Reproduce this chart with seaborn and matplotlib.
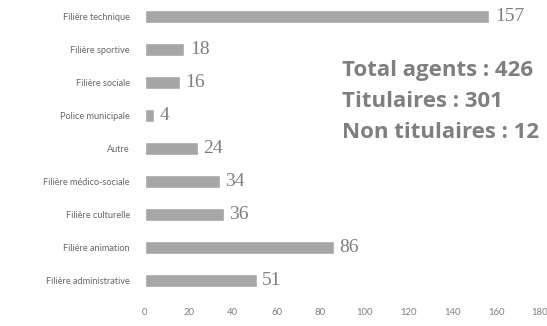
import matplotlib
matplotlib.use("Agg")
import matplotlib.pyplot as plt
import seaborn as sns
import pandas as pd

categories = [
    "Filière technique",
    "Filière sportive",
    "Filière sociale",
    "Police municipale",
    "Autre",
    "Filière médico-sociale",
    "Filière culturelle",
    "Filière animation",
    "Filière administrative",
]
effectifs = [157, 18, 16, 4, 24, 34, 36, 86, 51]
x_ticks = [0, 20, 40, 60, 80, 100, 120, 140, 160, 180]
summary_lines = ["Total agents : 426", "Titulaires : 301", "Non titulaires : 12"]

df = pd.DataFrame({"categorie": categories, "effectif": effectifs})

sns.set_theme(style="white")
plt.rcParams["font.family"] = ["Lato", "DejaVu Sans"]

fig = plt.figure(figsize=(5.47, 3.26), dpi=100)
ax = fig.add_axes([0.265, 0.088, 0.722, 0.912])

sns.barplot(data=df, x="effectif", y="categorie", orient="h",
            color="#a6a6a6", saturation=1, width=0.39, ax=ax)

for i, v in enumerate(df["effectif"]):
    ax.text(v + 2.5, i, str(v), va="center", ha="left",
            family="Liberation Serif", fontsize=14, color="#7f7f7f")

ax.set_xlim(0, 180)
ax.set_ylim(8.5, -0.5)
ax.set_xticks(x_ticks)
ax.set_xticklabels([str(t) for t in x_ticks], fontsize=6.8, color="#7f7f7f")
ax.tick_params(axis="y", labelsize=6.6, labelcolor="#666666", length=0, pad=11)
ax.tick_params(axis="x", length=0, pad=8)
ax.set_xlabel("")
ax.set_ylabel("")
sns.despine(ax=ax, left=True, bottom=True)

fig.text(0.625, 0.815, "\n".join(summary_lines), ha="left", va="top",
         family="Open Sans", fontsize=16, fontweight="bold", color="#7f7f7f",
         linespacing=1.6)

fig.savefig("out.png", dpi=100)
